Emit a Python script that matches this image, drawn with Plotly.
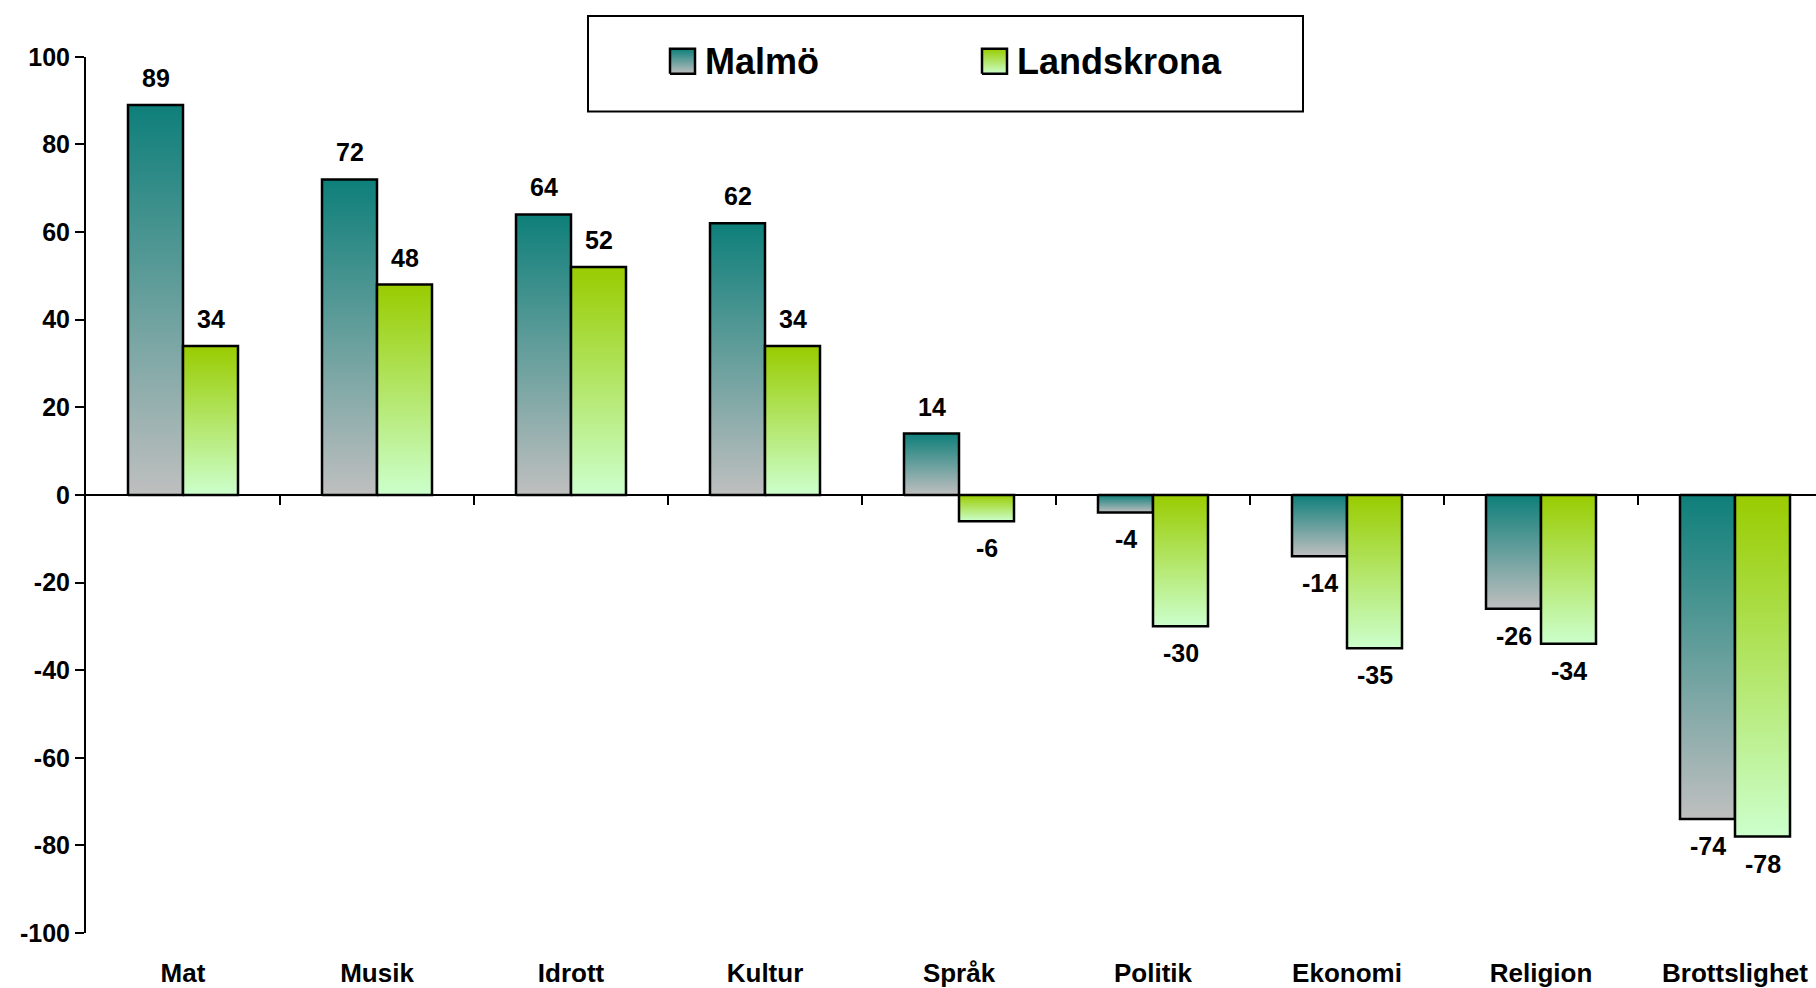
import plotly.graph_objects as go

# ---------------- data ----------------
categories = ["Mat", "Musik", "Idrott", "Kultur", "Språk", "Politik", "Ekonomi", "Religion", "Brottslighet"]
malmo = [89, 72, 64, 62, 14, -4, -14, -26, -74]
landskrona = [34, 48, 52, 34, -6, -30, -35, -34, -78]
series_names = ["Malmö", "Landskrona"]
y_ticks = [-100, -80, -60, -40, -20, 0, 20, 40, 60, 80, 100]

# ---------------- styling ----------------
FONT = "Liberation Sans, Arial, sans-serif"
BAR_W = 0.2835
GRAD = {
    "Malmö": [[0, "#bfbfbf"], [1, "#0e7f7a"]],
    "Landskrona": [[0, "#ccffcc"], [1, "#99cc00"]],
}
W, H = 1816, 988
ML, MR, MT, MB = 86, 0, 10, 54
plot_w = W - ML - MR
plot_h = H - MT - MB
y_top_px = 53
D = (H - MB - y_top_px) / plot_h  # main y-domain top
cat_px = 194.0
x_range = [-0.5, -0.5 + plot_w / cat_px]

fig = go.Figure()

for s, (name, vals) in enumerate(zip(series_names, [malmo, landskrona])):
    for i, v in enumerate(vals):
        x0 = i - BAR_W if s == 0 else i
        x1 = x0 + BAR_W
        fig.add_trace(go.Scatter(
            x=[x0, x1, x1, x0, x0], y=[0, 0, v, v, 0],
            mode="lines", fill="toself",
            fillgradient=dict(type="vertical", colorscale=GRAD[name]),
            line=dict(color="black", width=2.5),
            name=name, showlegend=False, hoverinfo="skip",
        ))
        fig.add_annotation(
            x=(x0 + x1) / 2, y=v, text=str(v), showarrow=False,
            yshift=27 if v > 0 else -27,
            font=dict(family=FONT, size=25, color="black", weight="bold"),
        )

# empty trace to activate the zero-line axis
fig.add_trace(go.Scatter(x=[], y=[], xaxis="x2", yaxis="y", showlegend=False))

# ---------------- manual legend (own axes) ----------------
LX0, LX1, LY0, LY1 = 588, 1303, 12, 108  # pixel box
lw, lh = LX1 - LX0, LY1 - LY0
leg_items = [(series_names[0], 82), (series_names[1], 394)]
for name, sx in leg_items:
    sy0, sy1 = 38, 63
    fig.add_trace(go.Scatter(
        x=[sx, sx + 25, sx + 25, sx, sx], y=[sy0, sy0, sy1, sy1, sy0],
        mode="lines", fill="toself",
        fillgradient=dict(type="vertical", colorscale=GRAD[name]),
        line=dict(color="black", width=2.5),
        xaxis="x3", yaxis="y3", showlegend=False, hoverinfo="skip",
    ))
    fig.add_annotation(
        x=sx + 33, y=50.5, xref="x3", yref="y3", text=name, showarrow=False,
        xanchor="left", yanchor="middle",
        font=dict(family=FONT, size=36, color="black", weight="bold"),
    )
fig.add_shape(type="rect", xref="x3 domain", yref="y3 domain", x0=0, x1=1, y0=0, y1=1,
              line=dict(color="black", width=2), fillcolor="rgba(0,0,0,0)")

fig.update_layout(
    width=W, height=H,
    margin=dict(l=ML, r=MR, t=MT, b=MB),
    paper_bgcolor="white", plot_bgcolor="white",
    showlegend=False,
    xaxis=dict(
        range=x_range, tickvals=list(range(len(categories))), ticktext=categories,
        ticks="outside", ticklen=17, tickcolor="rgba(0,0,0,0)",
        tickfont=dict(family=FONT, size=26, color="black", weight="bold"),
        showline=False, showgrid=False, zeroline=False, fixedrange=True,
    ),
    xaxis2=dict(
        overlaying="x", anchor="free", position=D / 2, side="bottom",
        range=x_range, tickvals=[i + 0.5 for i in range(len(categories) - 1)],
        ticks="outside", ticklen=9, tickwidth=2, tickcolor="black",
        showticklabels=False, showline=True, linecolor="black", linewidth=2,
        showgrid=False, zeroline=False,
    ),
    yaxis=dict(
        domain=[0, D], range=[-100, 100], tickvals=y_ticks,
        ticktext=[str(t) for t in y_ticks],
        ticks="outside", ticklen=9, tickwidth=2, tickcolor="black",
        showline=True, linecolor="black", linewidth=2,
        tickfont=dict(family=FONT, size=25, color="black", weight="bold"),
        showgrid=False, zeroline=False,
    ),
    xaxis3=dict(domain=[(LX0 - ML) / plot_w, (LX1 - ML) / plot_w], range=[0, lw],
                visible=False, anchor="y3"),
    yaxis3=dict(domain=[(H - MB - LY1) / plot_h, (H - MB - LY0) / plot_h], range=[0, lh],
                visible=False, anchor="x3"),
)

fig.write_html(
    "out.html",
    config={"displayModeBar": False},
    post_script="document.body.style.margin='0';document.body.style.overflow='hidden';",
)
